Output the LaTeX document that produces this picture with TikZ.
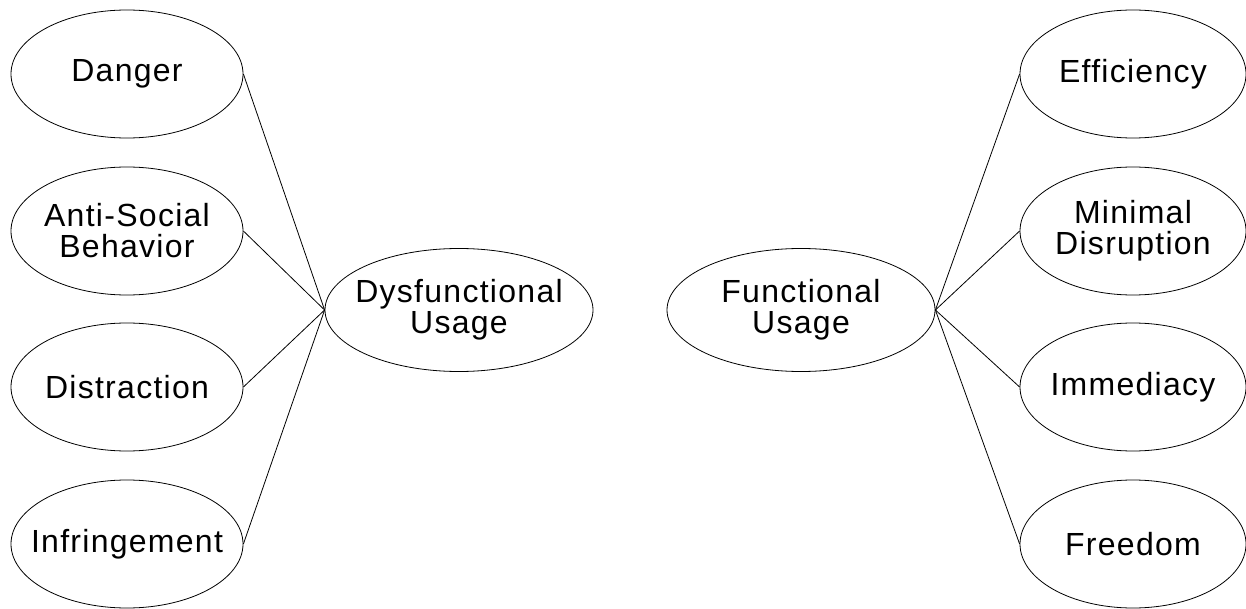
\documentclass[tikz,border=0pt]{standalone}
\usepackage{fontspec}
\setmainfont[LetterSpace=4]{Liberation Sans}
\usepackage{tikz}
\usetikzlibrary{shapes.geometric}
\tikzset{leafstyle/.style={draw,ellipse,inner xsep=-25pt,inner ysep=0pt,minimum width=232pt,minimum height=128pt,align=center,font=\fontsize{32}{31}\selectfont}}
\tikzset{hubstyle/.style={leafstyle,minimum width=268pt,minimum height=123pt}}

\begin{document}
\begin{tikzpicture}[x=1pt,y=-1pt,line width=0.8pt]
            \useasboundingbox (0,0) rectangle (1246,609);
            % setup the two hubs
            \node[hubstyle] (dys) at (459,310) {Dysfunctional\\Usage};
            \node[hubstyle] (fun) at (801,310) {Functional\\Usage};
            % left side
            \foreach \y/\myname/\mytext in {74/danger/Danger,231/antisocial/{Anti-Social\\Behavior},387/distraction/Distraction,544/infringement/Infringement}
            {
                \node[leafstyle] (\myname) at (127,\y) {\mytext};
                \draw (\myname.east) -- (dys.west);
            }
            % right side
            \foreach \y/\myname/\mytext in {74/efficiency/Efficiency,231/minimal/{Minimal\\Disruption},387/immediacy/Immediacy,544/freedom/Freedom}
            {
                \node[leafstyle,minimum width=226pt] (\myname) at (1133,\y) {\mytext};
                \draw (fun.east) -- (\myname.west);
            }
        \end{tikzpicture}
\end{document}
